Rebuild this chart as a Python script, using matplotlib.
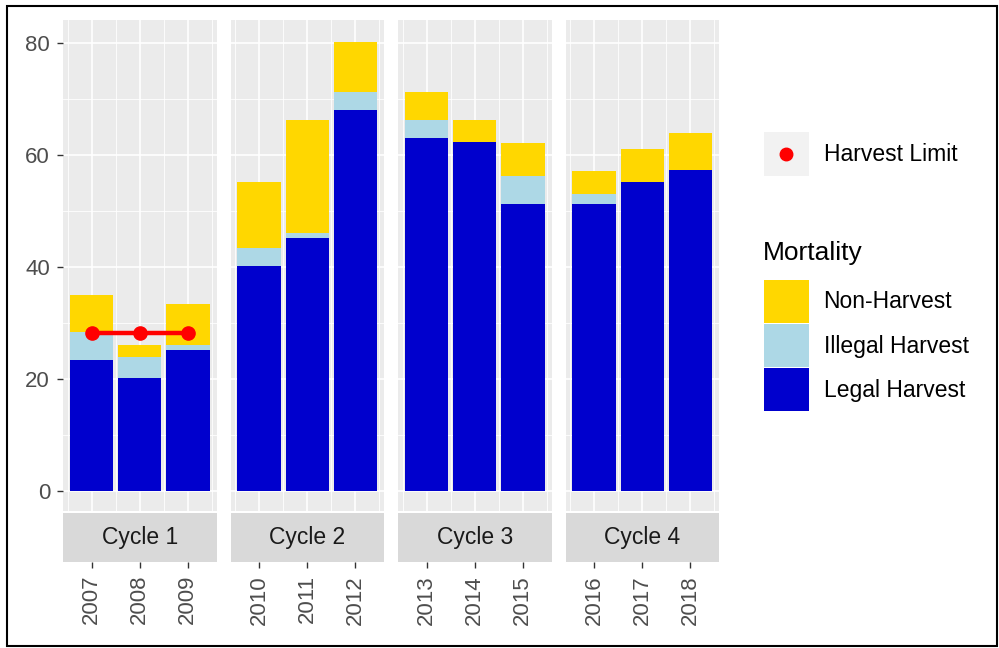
import numpy as np
import matplotlib
matplotlib.use('Agg')
import matplotlib.pyplot as plt
from matplotlib.patches import Patch, Rectangle
from matplotlib.lines import Line2D
from matplotlib.legend_handler import HandlerTuple, HandlerLine2D

plt.rcParams['font.family'] = ['Liberation Sans', 'DejaVu Sans']

# data
years = [2007, 2008, 2009, 2010, 2011, 2012, 2013, 2014, 2015, 2016, 2017, 2018]
cycle = [1, 1, 1, 2, 2, 2, 3, 3, 3, 4, 4, 4]
cycle_names = ['Cycle 1', 'Cycle 2', 'Cycle 3', 'Cycle 4']
legal = [23.3, 20.1, 25.1, 40.1, 45.1, 68.1, 63.0, 62.3, 51.2, 51.2, 55.1, 57.3]
illegal = [5.0, 3.8, 1.0, 3.2, 1.0, 3.1, 3.2, 0.0, 5.0, 1.8, 0.0, 0.0]
non_harvest = [6.7, 2.2, 7.2, 11.8, 20.1, 8.9, 5.0, 3.9, 6.0, 4.2, 6.0, 6.7]
harvest_limit = [28.2, 28.2, 28.2, np.nan, np.nan, np.nan,
                 np.nan, np.nan, np.nan, np.nan, np.nan, np.nan]

col_legal = '#0000CD'
col_illegal = '#ADD8E6'
col_non = '#FFD700'

W, H = 999, 648
fig = plt.figure(figsize=(W / 100, H / 100), dpi=100)

def px(x0, y0, x1, y1):
    # pixel box (top-left origin) -> figure fraction rect
    return [x0 / W, 1 - y1 / H, (x1 - x0) / W, (y1 - y0) / H]

panel_w = 153.5
gap = 14
left0 = 63
top, bottom = 20, 511
strip_top, strip_bot = 513, 562

years = np.array(years)
cycle = np.array(cycle)
legal = np.array(legal)
illegal = np.array(illegal)
non_harvest = np.array(non_harvest)
harvest_limit = np.array(harvest_limit)

for i, name in enumerate(cycle_names):
    x0 = left0 + i * (panel_w + gap)
    ax = fig.add_axes(px(x0, top, x0 + panel_w, bottom))
    m = cycle == i + 1
    yr = years[m]
    lo, hi = yr.min() - 0.595, yr.max() + 0.595

    ax.set_facecolor('#EBEBEB')
    for s in ax.spines.values():
        s.set_visible(False)
    for y in [0, 20, 40, 60, 80]:
        ax.axhline(y, color='white', lw=1.2, zorder=0)
    for y in [10, 30, 50, 70]:
        ax.axhline(y, color='white', lw=0.6, zorder=0)
    for x in yr:
        ax.axvline(x, color='white', lw=1.2, zorder=0)
    for x in np.arange(yr.min() - 0.5, yr.max() + 1, 1.0):
        ax.axvline(x, color='white', lw=0.6, zorder=0)

    ax.bar(yr, legal[m], width=0.9, color=col_legal, zorder=2)
    ax.bar(yr, illegal[m], width=0.9, bottom=legal[m], color=col_illegal, zorder=2)
    ax.bar(yr, non_harvest[m], width=0.9, bottom=legal[m] + illegal[m],
           color=col_non, zorder=2)

    hl = harvest_limit[m]
    if not np.all(np.isnan(hl)):
        ax.plot(yr, hl, color='red', lw=3.2, marker='o', ms=9.5, zorder=3)

    ax.set_xlim(lo, hi)
    ax.set_ylim(-3.6, 84.1)
    ax.set_xticks([])
    if i == 0:
        ax.set_yticks([0, 20, 40, 60, 80])
        ax.tick_params(axis='y', length=4.3, width=1, color='#333333',
                       labelcolor='#4D4D4D', labelsize=16, pad=5)
    else:
        ax.set_yticks([])

    # strip below the panel
    sax = fig.add_axes(px(x0, strip_top, x0 + panel_w, strip_bot))
    sax.set_facecolor('#D9D9D9')
    for s in sax.spines.values():
        s.set_visible(False)
    sax.set_xlim(lo, hi)
    sax.set_ylim(0, 1)
    sax.set_yticks([])
    sax.set_xticks(yr)
    sax.set_xticklabels([str(y) for y in yr], rotation=90)
    sax.tick_params(axis='x', length=4.3, width=1, color='#333333',
                    labelcolor='#4D4D4D', labelsize=16, pad=5)
    sax.text(0.5, 0.5, name, transform=sax.transAxes, ha='center',
             va='center', fontsize=16.5, color='#1A1A1A')


class CenteredLine(HandlerLine2D):
    # put the marker in the middle of the key box
    def create_artists(self, legend, orig_handle, xdescent, ydescent,
                       width, height, fontsize, trans):
        return super().create_artists(legend, orig_handle, xdescent, ydescent,
                                      width, height - ydescent, fontsize, trans)


# legends
h_limit = (Patch(facecolor='#F2F2F2', edgecolor='none'),
           Line2D([], [], color='red', marker='o', linestyle='none', ms=9))
leg1 = fig.legend([h_limit], ['Harvest Limit'],
                  handler_map={tuple: HandlerTuple(ndivide=1),
                               Line2D: CenteredLine()},
                  loc='upper left', bbox_to_anchor=(764 / W, 1 - 132 / H),
                  frameon=False, borderpad=0, borderaxespad=0,
                  handlelength=1.95, handleheight=2.6, handletextpad=0.65,
                  fontsize=16.5)

fig.text(763 / W, 1 - 253 / H, 'Mortality', fontsize=19, va='center',
         ha='left', color='black')

h_mort = [Patch(facecolor=col_non), Patch(facecolor=col_illegal),
          Patch(facecolor=col_legal)]
leg2 = fig.legend(h_mort, ['Non-Harvest', 'Illegal Harvest', 'Legal Harvest'],
                  loc='upper left', bbox_to_anchor=(764 / W, 1 - 280 / H),
                  frameon=False, borderpad=0, borderaxespad=0,
                  handlelength=1.95, handleheight=2.5, handletextpad=0.65,
                  labelspacing=0.06, fontsize=16.5)

# outer black frame
fig.patches.append(Rectangle((7 / W, 2 / H), 990 / W, 640 / H,
                             transform=fig.transFigure, fill=False,
                             edgecolor='black', lw=1.5))

fig.savefig('out.png', dpi=100)
